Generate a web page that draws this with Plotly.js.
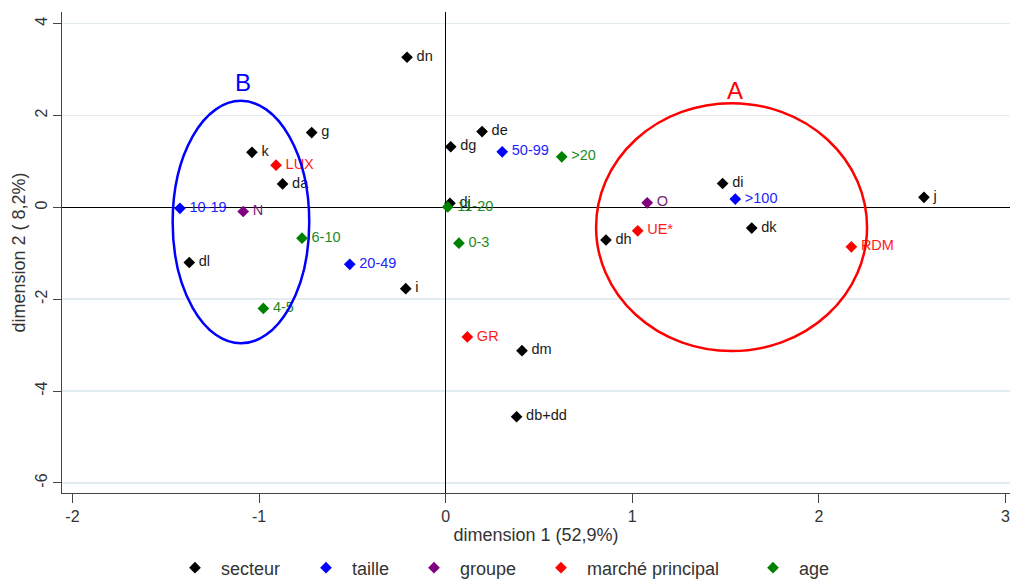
<!DOCTYPE html>
<html>
<head>
<meta charset="utf-8">
<script src="https://cdn.plot.ly/plotly-3.0.1.min.js"></script>
<style>html,body{margin:0;padding:0;background:#fff;}#chart{width:1010px;height:580px;}</style>
</head>
<body>
<div id="chart"></div>
<script>
// ---- data ----
const secteurLabels = ["dn","g","k","da","dl","i","de","dg","dj","di","dk","dh","j","dm","db+dd"];
const secteurX = [-0.207,-0.718,-1.038,-0.874,-1.374,-0.214,0.195,0.027,0.023,1.484,1.640,0.859,2.563,0.409,0.380];
const secteurY = [3.27,1.63,1.20,0.51,-1.20,-1.77,1.65,1.32,0.09,0.52,-0.45,-0.71,0.22,-3.12,-4.56];

const tailleLabels = ["10-19","50-99","20-49",">100"];
const tailleX = [-1.424,0.303,-0.514,1.552];
const tailleY = [-0.02,1.21,-1.24,0.18];

const groupeLabels = ["N","O"];
const groupeX = [-1.085,1.080];
const groupeY = [-0.09,0.10];

const marcheLabels = ["LUX","UE*","RDM","GR"];
const marcheX = [-0.909,1.029,2.174,0.116];
const marcheY = [0.92,-0.51,-0.86,-2.82];

const ageLabels = [">20","11-20","6-10","0-3","4-5"];
const ageX = [0.622,0.011,-0.770,0.071,-0.977];
const ageY = [1.10,0.01,-0.67,-0.78,-2.20];

const seriesNames = ["secteur","taille","groupe","marché principal","age"];

const groupNames = ["B","A"];
const groupCx = [-1.097,1.532];
const groupCy = [-0.32,-0.43];
const groupRx = [0.366,0.726];
const groupRy = [2.64,2.70];
const groupLabelX = [-1.086,1.550];
const groupLabelY = [2.73,2.556];

const xTickVals = [-2,-1,0,1,2,3];
const xTickText = ["-2","-1","0","1","2","3"];
const yTickVals = [-6,-4,-2,0,2,4];
const yTickText = ["-6","-4","-2","0","2","4"];

// ---- styles ----
const markerColors = ["#000000","#0000ff","#800080","#ff0000","#008000"];
const textColors = ["#1a1a1a","#2222ff","#7a1a7a","#ff1a1a","#1e8a1e"];
const groupColors = ["#0000ff","#ff0000"];
const legendMarkerPx = [195,326,434,561,773];
const FONT = "Liberation Sans, Arial, sans-serif";
const W = 1010, H = 580;

const sets = [
  [secteurLabels, secteurX, secteurY],
  [tailleLabels, tailleX, tailleY],
  [groupeLabels, groupeX, groupeY],
  [marcheLabels, marcheX, marcheY],
  [ageLabels, ageX, ageY]
];
const legendIds = ["legend","legend2","legend3","legend4","legend5"];

const traces = sets.map((s, i) => ({
  type: "scatter",
  mode: "markers+text",
  name: seriesNames[i],
  legend: legendIds[i],
  x: s[1], y: s[2], text: s[0],
  texttemplate: "\u2009%{text}",
  textposition: "middle right",
  textfont: {family: FONT, size: 14.5, color: textColors[i]},
  marker: {symbol: "diamond", size: 9, color: markerColors[i]},
  cliponaxis: false,
  hoverinfo: "text"
}));

const shapes = groupNames.map((g, i) => ({
  type: "circle", xref: "x", yref: "y",
  x0: groupCx[i] - groupRx[i], x1: groupCx[i] + groupRx[i],
  y0: groupCy[i] - groupRy[i], y1: groupCy[i] + groupRy[i],
  line: {color: groupColors[i], width: 2.5},
  layer: "above"
}));

const annotations = groupNames.map((g, i) => ({
  xref: "x", yref: "y",
  x: groupLabelX[i], y: groupLabelY[i],
  text: g, showarrow: false,
  font: {family: FONT, size: 24, color: groupColors[i]}
}));

const layout = {
  width: W, height: H,
  margin: {l: 62, r: 0, t: 12, b: 87},
  paper_bgcolor: "#fff", plot_bgcolor: "#fff",
  font: {family: FONT, color: "#333"},
  showlegend: true,
  xaxis: {
    range: [-2.056, 3.024],
    tickmode: "array", tickvals: xTickVals, ticktext: xTickText,
    ticklabeloverflow: "allow",
    showgrid: false, zeroline: true, zerolinecolor: "#000", zerolinewidth: 1,
    showline: true, linecolor: "#444", linewidth: 1,
    ticks: "outside", ticklen: 9, tickcolor: "#444",
    tickfont: {family: FONT, size: 16, color: "#333"},
    title: {text: "dimension 1 (52,9%)", font: {family: FONT, size: 18, color: "#333"}, standoff: 4}
  },
  yaxis: {
    range: [-6.22, 4.255],
    tickmode: "array", tickvals: yTickVals, ticktext: yTickText,
    showgrid: true, gridcolor: "#e3ecf1", gridwidth: 1.5,
    zeroline: true, zerolinecolor: "#000", zerolinewidth: 1,
    showline: true, linecolor: "#444", linewidth: 1,
    ticks: "outside", ticklen: 8, tickcolor: "#444", tickangle: -90,
    tickfont: {family: FONT, size: 16, color: "#333"},
    title: {text: "dimension 2 ( 8,2%)", font: {family: FONT, size: 18, color: "#333"}, standoff: 2}
  },
  shapes: shapes,
  annotations: annotations
};

legendIds.forEach((id, i) => {
  layout[id] = {
    orientation: "h", xref: "container", yref: "container",
    x: (legendMarkerPx[i] - 26) / W, xanchor: "left",
    y: (H - 568) / H, yanchor: "middle",
    font: {family: FONT, size: 18, color: "#333"},
    itemwidth: 42, bgcolor: "rgba(0,0,0,0)", borderwidth: 0
  };
});

Plotly.newPlot("chart", traces, layout, {displayModeBar: false, staticPlot: true});
</script>
</body>
</html>
